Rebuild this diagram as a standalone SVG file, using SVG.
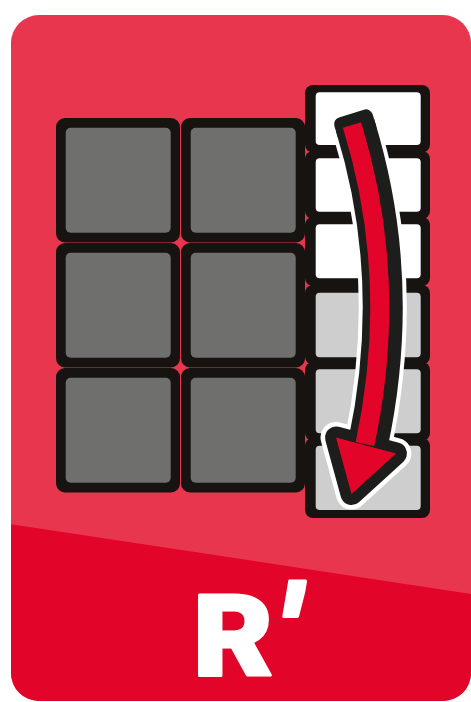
<svg xmlns="http://www.w3.org/2000/svg" width="471" height="702" viewBox="0 0 471 702">
  <defs>
    <clipPath id="cardClip">
      <rect x="11" y="15" width="460" height="686" rx="28"/>
    </clipPath>
    <style>
      .blk { fill: #161311; }
      .gray { fill: #6F6F6E; }
      .lgray { fill: #CECECE; }
      .wht { fill: #FFFFFF; }
      .label { font-family: Roboto, "Liberation Sans", sans-serif; font-weight: 900; fill: #FFFFFF; stroke: #FFFFFF; stroke-width: 3; stroke-linejoin: round; }
    </style>
  </defs>

  <g id="card" clip-path="url(#cardClip)">
    <rect x="0" y="0" width="471" height="702" fill="#E8364F"/>
    <polygon points="0,522.5 471,594 471,702 0,702" fill="#E30429"/>
  </g>

  <g id="left-grid">
    <g id="cell-r1c1"><rect class="blk" x="56" y="118" width="124" height="124.5" rx="9"/><rect class="gray" x="65.7" y="127.7" width="105" height="105" rx="5"/></g>
    <g id="cell-r1c2"><rect class="blk" x="181" y="118" width="124" height="124.5" rx="9"/><rect class="gray" x="190.7" y="127.7" width="105" height="105" rx="5"/></g>
    <g id="cell-r2c1"><rect class="blk" x="56" y="243" width="124" height="124.5" rx="9"/><rect class="gray" x="65.7" y="252.7" width="105" height="105" rx="5"/></g>
    <g id="cell-r2c2"><rect class="blk" x="181" y="243" width="124" height="124.5" rx="9"/><rect class="gray" x="190.7" y="252.7" width="105" height="105" rx="5"/></g>
    <g id="cell-r3c1"><rect class="blk" x="56" y="368" width="124" height="124.5" rx="9"/><rect class="gray" x="65.7" y="377.7" width="105" height="105" rx="5"/></g>
    <g id="cell-r3c2"><rect class="blk" x="181" y="368" width="124" height="124.5" rx="9"/><rect class="gray" x="190.7" y="377.7" width="105" height="105" rx="5"/></g>
  </g>

  <g id="right-column">
    <g id="rcell-1"><rect class="blk" x="305" y="85" width="125" height="67.5" rx="8"/><rect class="wht" x="315.7" y="92.3" width="105" height="52.7" rx="4"/></g>
    <g id="rcell-2"><rect class="blk" x="305" y="151" width="125" height="68" rx="8"/><rect class="wht" x="315.7" y="158.3" width="105" height="53.4" rx="4"/></g>
    <g id="rcell-3"><rect class="blk" x="305" y="217" width="125" height="69" rx="8"/><rect class="wht" x="315.7" y="224.3" width="105" height="54" rx="4"/></g>
    <g id="rcell-4"><rect class="blk" x="305" y="285" width="125" height="79.5" rx="8"/><rect class="lgray" x="315.7" y="292.7" width="105" height="64.6" rx="4"/></g>
    <g id="rcell-5"><rect class="blk" x="305" y="362" width="125" height="79" rx="8"/><rect class="lgray" x="315.7" y="369.3" width="105" height="64" rx="4"/></g>
    <g id="rcell-6"><rect class="blk" x="305" y="438" width="125" height="80" rx="8"/><rect class="lgray" x="315.7" y="445.7" width="105" height="64.3" rx="4"/></g>
  </g>

  <g id="arrow">
    <!-- white outline -->
    <g fill="#FFFFFF" stroke="#FFFFFF">
      <path d="M352,125 Q400,280 365,444" transform="translate(3,0)" fill="none" stroke-width="48"/>
      <rect x="-24" y="-16" width="48" height="32" rx="12" stroke="none" transform="translate(355,125) rotate(-17.2)"/>
      <polygon points="336,437.5 396,453.5 351.5,494" stroke-width="31" stroke-linejoin="round"/>
    </g>
    <!-- dark outline -->
    <g fill="#1D1D1B" stroke="#1D1D1B">
      <path d="M352,125 Q400,280 365,444" transform="translate(3,0)" fill="none" stroke-width="40"/>
      <rect x="-20" y="-12" width="40" height="26" rx="7" stroke="none" transform="translate(355,125) rotate(-17.2)"/>
      <polygon points="336,437.5 396,453.5 351.5,494" stroke-width="22" stroke-linejoin="round"/>
    </g>
    <!-- red body -->
    <g fill="#E30429">
      <path d="M352,125 Q400,280 365,444" fill="none" stroke="#E30429" stroke-width="19"/>
      <polygon points="336,437.5 396,453.5 351.5,494"/>
    </g>
  </g>

  <g id="title">
    <text class="label" transform="translate(193,675) scale(1.08,1)" x="0" y="0" font-size="114">R<tspan dx="4" font-style="italic" font-size="125">′</tspan></text>
  </g>
</svg>
